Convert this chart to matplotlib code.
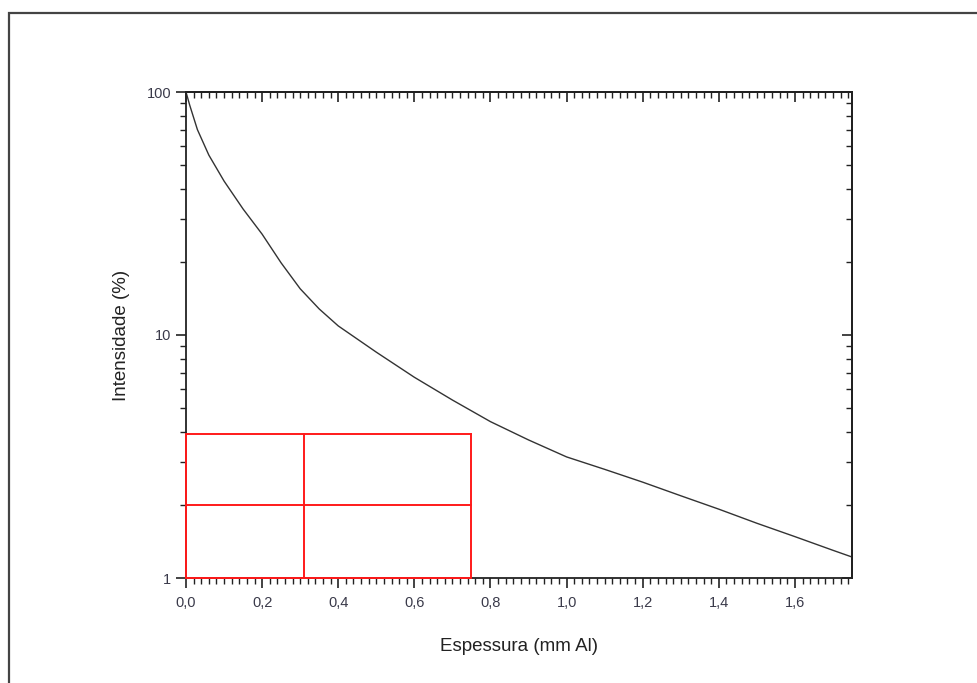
#!/usr/bin/env python3
"""Intensity vs. aluminium thickness (log scale) with red reading grid."""

import matplotlib
matplotlib.use("Agg")
import matplotlib.pyplot as plt
from matplotlib.patches import Rectangle
from matplotlib.ticker import FixedLocator, LogLocator, NullFormatter, MultipleLocator

plt.rcParams["font.family"] = ["Liberation Sans", "DejaVu Sans"]

# curve
espessura = [0.0, 0.01, 0.03, 0.06, 0.10, 0.15, 0.20, 0.25, 0.30, 0.35, 0.40,
             0.50, 0.60, 0.70, 0.80, 0.90, 1.00, 1.10, 1.20, 1.30, 1.40,
             1.50, 1.60, 1.70, 1.75]
intensidade = [100, 88, 70, 55, 43, 33, 26, 19.8, 15.5, 12.8, 10.9,
               8.5, 6.7, 5.4, 4.4, 3.7, 3.15, 2.8, 2.48, 2.18, 1.92,
               1.68, 1.48, 1.30, 1.22]

# red reading grid
grid_x = [0.0, 0.31, 0.75]
grid_y = [1.0, 2.0, 3.9]

y_ticks = [1, 10, 100]
y_labels = ["1", "10", "100"]
x_ticks = [0.0, 0.2, 0.4, 0.6, 0.8, 1.0, 1.2, 1.4, 1.6]
x_labels = ["0,0", "0,2", "0,4", "0,6", "0,8", "1,0", "1,2", "1,4", "1,6"]

fig = plt.figure(figsize=(9.78, 6.83), dpi=100)

# outer page frame
fig.patches.append(Rectangle((9 / 978, -0.05), 1.1, 1 - 13 / 683 + 0.05,
                             transform=fig.transFigure, fill=False,
                             edgecolor="#444444", linewidth=1.6))

ax = fig.add_axes([186 / 978, 1 - 578 / 683, 666 / 978, 486 / 683])
ax.plot(espessura, intensidade, color="#333333", linewidth=1.0)

for yv in grid_y:
    ax.plot([grid_x[0], grid_x[-1]], [yv, yv], color="#ff1a1a", linewidth=1.4,
            clip_on=False, zorder=3)
for xv in grid_x:
    ax.plot([xv, xv], [grid_y[0], grid_y[-1]], color="#ff1a1a", linewidth=1.4,
            clip_on=False, zorder=3)

ax.set_yscale("log")
ax.set_xlim(0, 1.75)
ax.set_ylim(1, 100)

ax.yaxis.set_major_locator(FixedLocator(y_ticks))
ax.set_yticklabels(y_labels)
ax.yaxis.set_minor_locator(LogLocator(base=10, subs=range(2, 10)))
ax.yaxis.set_minor_formatter(NullFormatter())
ax.set_xticks(x_ticks)
ax.set_xticklabels(x_labels)
ax.xaxis.set_minor_locator(MultipleLocator(0.02))

for sp in ax.spines.values():
    sp.set_linewidth(1.3)
    sp.set_color("#222222")

# outward ticks on bottom/left, inward on top/right
ax.tick_params(which="both", bottom=True, left=True, top=False, right=False,
               direction="out", color="#222222", labelsize=10.5, labelcolor="#3a3a4a")
ax.tick_params(which="major", length=7, width=1.2)
ax.tick_params(which="minor", length=4, width=1.0)
ax.tick_params(axis="x", which="major", pad=6)

sec_x = ax.secondary_xaxis("top")
sec_x.set_xticks(x_ticks)
sec_x.xaxis.set_minor_locator(MultipleLocator(0.02))
sec_x.tick_params(which="both", direction="in", labeltop=False, color="#222222")
sec_x.tick_params(which="major", length=7, width=1.2)
sec_x.tick_params(which="minor", length=4, width=1.0)
sec_x.spines["top"].set_linewidth(1.3)

sec_y = ax.secondary_yaxis("right")
sec_y.set_yticks(y_ticks)
sec_y.yaxis.set_minor_locator(LogLocator(base=10, subs=range(2, 10)))
sec_y.yaxis.set_minor_formatter(NullFormatter())
sec_y.tick_params(which="both", direction="in", labelright=False, color="#222222")
sec_y.tick_params(which="major", length=7, width=1.2)
sec_y.tick_params(which="minor", length=4, width=1.0)
sec_y.spines["right"].set_linewidth(1.3)

ax.set_xlabel("Espessura (mm Al)", fontsize=13.5, color="#222222", labelpad=20)
ax.set_ylabel("Intensidade (%)", fontsize=13.5, color="#222222", labelpad=12)

fig.savefig("out.png", dpi=100)
